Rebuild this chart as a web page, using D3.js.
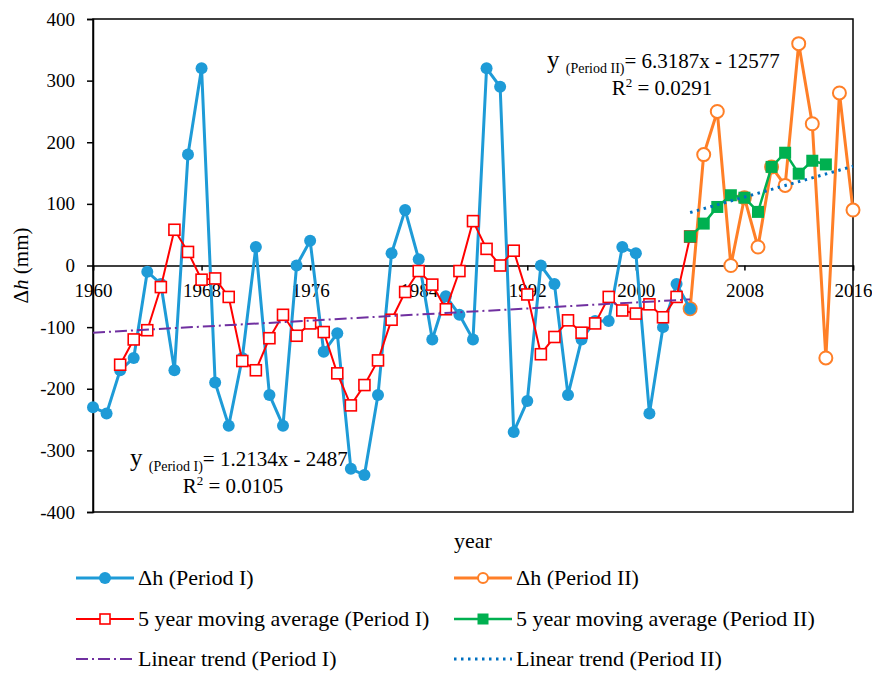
<!DOCTYPE html>
<html>
<head>
<meta charset="utf-8">
<script src="https://cdn.jsdelivr.net/npm/d3@7"></script>
<style>
  body { margin: 0; background: #fff; }
  svg text { font-family: "Liberation Serif", "Times New Roman", serif; fill: #000; }
</style>
</head>
<body>
<div id="chart"></div>
<script>
// data
var yearsI = d3.range(1960, 2005);
var dhI = [-230, -240, -170, -150, -10, -30, -170, 180, 320, -190, -260, -150, 30, -210, -260, 0, 40, -140, -110, -330,
           -340, -210, 20, 90, 10, -120, -50, -80, -120, 320, 290, -270, -220, 0, -30, -210, -120, -90, -90, 30,
           20, -240, -100, -30, -70];
var yearsMaI = d3.range(1962, 2005);
var maI = [-161, -120, -105, -35, 58, 22, -23, -21, -51, -155, -170, -118, -80, -114, -94, -108, -175, -227, -194, -154,
           -88, -43, -9, -31, -71, -9, 72, 27, 0, 24, -47, -144, -116, -89, -109, -94, -51, -73, -78, -63,
           -84, -51, 47];
var yearsII = d3.range(2004, 2017);
var dhII = [-70, 180, 250, 0, 110, 30, 160, 130, 360, 230, -150, 280, 90];
var yearsMaII = d3.range(2004, 2015);
var maII = [47, 68, 95, 114, 110, 87, 160, 183, 149, 170, 164];
var trendI = [[1960, -109], [2004, -55]];
var trendII = [[2004, 86], [2016, 161]];
var xTicks = [1960, 1968, 1976, 1984, 1992, 2000, 2008, 2016];
var yTicks = [-400, -300, -200, -100, 0, 100, 200, 300, 400];

var width = 872, height = 673;
var margin = { top: 19, right: 19, bottom: 161, left: 93 };

var svg = d3.select("#chart").append("svg")
    .attr("width", width)
    .attr("height", height);

var x = d3.scaleLinear().domain([1960, 2016]).range([margin.left, width - margin.right]);
var y = d3.scaleLinear().domain([-400, 400]).range([height - margin.bottom, margin.top]);

// frame
svg.append("rect")
    .attr("x", x(1960)).attr("y", y(400))
    .attr("width", x(2016) - x(1960)).attr("height", y(-400) - y(400))
    .attr("fill", "none").attr("stroke", "#000").attr("stroke-width", 1.5);

// y axis (plain hyphen minus like the original)
var yAxis = svg.append("g")
    .attr("transform", "translate(" + x(1960) + ",0)")
    .call(d3.axisLeft(y).tickValues(yTicks).tickSize(6).tickPadding(12).tickFormat(d => String(d)));
yAxis.select(".domain").attr("stroke-width", 1.5);
yAxis.selectAll("line").attr("stroke-width", 1.5);
yAxis.selectAll("text").style("font-size", "19px");

// x axis at zero
var xAxis = svg.append("g")
    .attr("transform", "translate(0," + y(0) + ")")
    .call(d3.axisBottom(x).tickValues(xTicks).tickSize(5).tickPadding(13).tickFormat(d => String(d)));
xAxis.select(".domain").attr("stroke-width", 1.5);
xAxis.selectAll("line").attr("stroke-width", 1.5);
xAxis.selectAll("text").style("font-size", "19px");

var line = d3.line().x(d => x(d[0])).y(d => y(d[1]));

var ptsI = yearsI.map((yr, i) => [yr, dhI[i]]);
var ptsMaI = yearsMaI.map((yr, i) => [yr, maI[i]]);
var ptsII = yearsII.map((yr, i) => [yr, dhII[i]]);
var ptsMaII = yearsMaII.map((yr, i) => [yr, maII[i]]);

// Δh period II (orange, open circles)
svg.append("path").datum(ptsII).attr("d", line)
    .attr("fill", "none").attr("stroke", "#FF7F27").attr("stroke-width", 3);
svg.selectAll(".c2").data(ptsII).enter().append("circle")
    .attr("cx", d => x(d[0])).attr("cy", d => y(d[1])).attr("r", 6.5)
    .attr("fill", "#fff").attr("stroke", "#FF7F27").attr("stroke-width", 2);

// Δh period I (blue, filled dots)
svg.append("path").datum(ptsI).attr("d", line)
    .attr("fill", "none").attr("stroke", "#1E9BD7").attr("stroke-width", 3);
svg.selectAll(".c1").data(ptsI).enter().append("circle")
    .attr("cx", d => x(d[0])).attr("cy", d => y(d[1])).attr("r", 6)
    .attr("fill", "#1E9BD7");

// moving average period I (red, open squares)
svg.append("path").datum(ptsMaI).attr("d", line)
    .attr("fill", "none").attr("stroke", "#FF0000").attr("stroke-width", 2);
svg.selectAll(".s1").data(ptsMaI).enter().append("rect")
    .attr("x", d => x(d[0]) - 5.5).attr("y", d => y(d[1]) - 5.5)
    .attr("width", 11).attr("height", 11)
    .attr("fill", "#fff").attr("stroke", "#FF0000").attr("stroke-width", 1.6);

// moving average period II (green, filled squares)
svg.append("path").datum(ptsMaII).attr("d", line)
    .attr("fill", "none").attr("stroke", "#00B050").attr("stroke-width", 2.5);
svg.selectAll(".s2").data(ptsMaII).enter().append("rect")
    .attr("x", d => x(d[0]) - 6).attr("y", d => y(d[1]) - 6)
    .attr("width", 12).attr("height", 12)
    .attr("fill", "#00B050");

// trend lines
svg.append("path").datum(trendI).attr("d", line)
    .attr("fill", "none").attr("stroke", "#7030A0").attr("stroke-width", 2)
    .attr("stroke-dasharray", "12,4,2,4");
svg.append("path").datum(trendII).attr("d", line)
    .attr("fill", "none").attr("stroke", "#0070C0").attr("stroke-width", 3)
    .attr("stroke-dasharray", "2.5,4.5");

// equations
function equation(px, py, period, rhs, r2, r2x) {
    var t = svg.append("text").attr("x", px).attr("y", py).style("font-size", "21px");
    t.append("tspan").text("y ").style("font-size", "25px");
    t.append("tspan").text("(Period " + period + ")").style("font-size", "14px").attr("dy", 5);
    t.append("tspan").text("= " + rhs).attr("dy", -5);
    var r = svg.append("text").attr("x", r2x).attr("y", py + 27)
        .attr("text-anchor", "middle").style("font-size", "21px");
    r.append("tspan").text("R");
    r.append("tspan").text("2").style("font-size", "13px").attr("dy", -8);
    r.append("tspan").text(" = " + r2).attr("dy", 8);
}
equation(130, 466, "I", "1.2134x - 2487", "0.0105", 233);
equation(547, 68, "II", "6.3187x - 12577", "0.0291", 662);

// axis titles
svg.append("text")
    .attr("x", (x(1960) + x(2016)) / 2).attr("y", 548)
    .attr("text-anchor", "middle").style("font-size", "22px")
    .text("year");
var yl = svg.append("text")
    .attr("transform", "translate(28," + y(0) + ") rotate(-90)")
    .attr("text-anchor", "middle").style("font-size", "21px");
yl.append("tspan").text("Δ");
yl.append("tspan").text("h").style("font-style", "italic");
yl.append("tspan").text(" (mm)");

// legend
var legend = [
    { label: "Δh (Period I)", col: 0, row: 0, color: "#1E9BD7", width: 3, marker: "dot" },
    { label: "Δh (Period II)", col: 1, row: 0, color: "#FF7F27", width: 3, marker: "ring" },
    { label: "5 year moving average (Period I)", col: 0, row: 1, color: "#FF0000", width: 2, marker: "open" },
    { label: "5 year moving average (Period II)", col: 1, row: 1, color: "#00B050", width: 2.5, marker: "filled" },
    { label: "Linear trend (Period I)", col: 0, row: 2, color: "#7030A0", width: 2, dash: "12,4,2,4" },
    { label: "Linear trend (Period II)", col: 1, row: 2, color: "#0070C0", width: 3, dash: "2.5,4.5" }
];
var colX = [76, 454], rowY = [578, 619, 659];

legend.forEach(function(d) {
    var g = svg.append("g").attr("transform", "translate(" + colX[d.col] + "," + rowY[d.row] + ")");
    g.append("line").attr("x1", 0).attr("x2", 58).attr("y1", 0).attr("y2", 0)
        .attr("stroke", d.color).attr("stroke-width", d.width)
        .attr("stroke-dasharray", d.dash || null);
    if (d.marker == "dot") g.append("circle").attr("cx", 29).attr("r", 6).attr("fill", d.color);
    if (d.marker == "ring") g.append("circle").attr("cx", 29).attr("r", 5).attr("fill", "#fff")
        .attr("stroke", d.color).attr("stroke-width", 2);
    if (d.marker == "open") g.append("rect").attr("x", 24).attr("y", -5).attr("width", 10).attr("height", 10)
        .attr("fill", "#fff").attr("stroke", d.color).attr("stroke-width", 1.6);
    if (d.marker == "filled") g.append("rect").attr("x", 23.5).attr("y", -5.5).attr("width", 11).attr("height", 11)
        .attr("fill", d.color);
    g.append("text").attr("x", 62).attr("y", 7).style("font-size", "22px").text(d.label);
});
</script>
</body>
</html>
